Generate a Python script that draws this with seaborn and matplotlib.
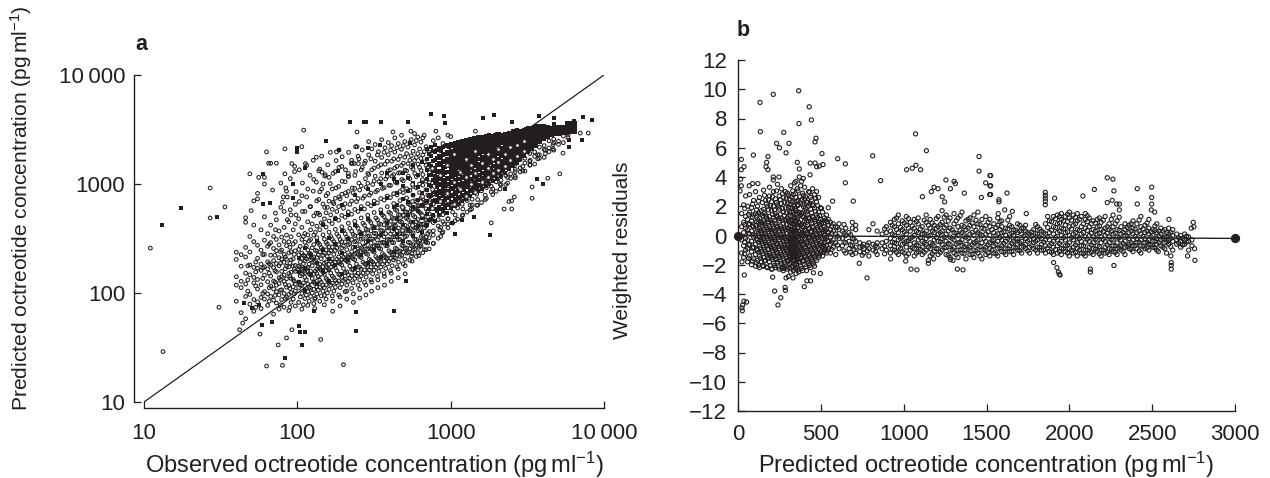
import matplotlib
matplotlib.use("Agg")
import matplotlib.pyplot as plt
import pandas as pd
import seaborn as sns

# panel a, values: observed -> list of predicted
a_open_low = {
    40: [84, 118, 141, 203, 236], 43: [66, 112, 128, 176, 225], 46: [58, 93, 121, 152, 214, 262],
    49: [79, 97, 147, 181, 238, 330], 52: [68, 87, 124, 139, 172, 296, 420], 55: [83, 109, 133, 169, 208, 274],
    58: [72, 91, 119, 161, 184, 247, 380], 61: [88, 103, 146, 174, 226, 305, 500], 64: [77, 98, 127, 166, 193, 268, 350],
    67: [93, 116, 143, 181, 222, 290, 420], 70: [64, 86, 109, 129, 171, 198, 256, 330],
    73: [81, 103, 118, 156, 186, 245, 310, 470], 76: [71, 96, 122, 138, 178, 211, 276, 370],
    79: [87, 107, 141, 158, 205, 248, 326], 82: [74, 99, 128, 146, 191, 226, 297, 400, 560],
    85: [92, 113, 135, 176, 204, 272, 340], 88: [69, 97, 117, 151, 174, 233, 295, 450],
    91: [82, 101, 136, 155, 201, 239, 328, 520], 94: [88, 114, 133, 177, 206, 282, 380],
    97: [76, 104, 121, 158, 179, 244, 296, 430, 650],
}
a_open_mid = {
    102: [82, 112, 126, 163, 176, 224, 251, 342, 480], 107: [71, 99, 117, 149, 165, 208, 233, 310, 400, 780],
    112: [89, 106, 139, 154, 197, 218, 292, 352, 560], 117: [77, 103, 121, 157, 172, 216, 248, 341, 450, 900],
    122: [93, 111, 146, 159, 202, 229, 310, 380, 620], 128: [80, 108, 126, 149, 192, 214, 278, 340, 510, 1100],
    134: [98, 114, 151, 166, 212, 242, 322, 410, 700], 140: [84, 113, 131, 168, 183, 238, 277, 381, 520, 850],
    147: [104, 118, 156, 174, 222, 252, 342, 430, 655, 1000], 154: [88, 119, 136, 174, 193, 249, 291, 402, 545, 780],
    161: [108, 126, 164, 183, 234, 266, 362, 458, 695, 1150], 169: [94, 123, 143, 185, 205, 264, 311, 433, 585, 900],
    177: [113, 131, 171, 191, 246, 281, 384, 486, 740, 1300], 186: [96, 129, 149, 192, 214, 279, 331, 465, 620, 950],
    195: [121, 140, 181, 203, 259, 296, 405, 515, 805, 1450], 205: [103, 134, 154, 202, 226, 295, 350, 496, 660, 1050],
    215: [128, 147, 192, 214, 277, 316, 436, 555, 855, 1250], 226: [110, 144, 165, 212, 240, 310, 370, 528, 700, 1650],
    237: [136, 155, 202, 227, 295, 336, 455, 585, 910, 1200], 249: [118, 152, 174, 226, 253, 331, 392, 560, 735, 1800],
    261: [144, 165, 212, 240, 311, 354, 488, 620, 960, 1350], 274: [125, 163, 186, 240, 270, 352, 418, 590, 775, 1550],
    288: [154, 174, 226, 253, 330, 378, 518, 660, 1015, 1250], 302: [132, 173, 198, 254, 287, 372, 442, 632, 825, 1700],
    317: [162, 184, 238, 270, 352, 402, 548, 698, 1065, 1400], 333: [142, 183, 208, 271, 307, 398, 470, 672, 875, 1850],
    350: [173, 195, 254, 287, 374, 426, 580, 735, 1120, 1500], 368: [151, 196, 222, 290, 328, 424, 502, 712, 925, 1950],
    386: [185, 208, 271, 307, 398, 455, 620, 775, 1170, 1620], 405: [160, 208, 236, 308, 348, 454, 538, 752, 970, 1350, 2050],
    425: [201, 224, 290, 328, 424, 484, 662, 815, 1220, 1700], 446: [174, 221, 253, 328, 372, 485, 572, 795, 1020, 1450, 2150],
    468: [216, 243, 310, 350, 452, 518, 705, 855, 1270, 1800], 491: [185, 237, 270, 350, 396, 516, 606, 835, 1070, 1550, 2250],
    516: [232, 259, 333, 375, 483, 552, 745, 905, 1320, 1900], 542: [200, 255, 290, 372, 424, 552, 645, 875, 1120, 1650, 2400],
    569: [248, 278, 357, 402, 515, 590, 790, 950, 1370, 2000], 597: [216, 276, 311, 398, 452, 590, 685, 925, 1170, 1750, 2500],
    627: [270, 300, 382, 430, 550, 630, 835, 1000, 1420, 2100], 658: [234, 298, 336, 430, 490, 630, 728, 975, 1220, 1850, 2650],
    691: [292, 325, 412, 465, 592, 675, 885, 1060, 1480, 2200], 725: [254, 322, 366, 465, 530, 675, 775, 1030, 1280, 1950],
}
# offset columns that break up the rows of the first pass
a_open_extra = {
    47.5: [104, 132, 178], 53.5: [74, 116, 156, 192], 59.5: [99, 136, 170, 225], 65.5: [84, 112, 152, 186, 280], 71.5: [95, 126, 160, 222],
    77.5: [78, 106, 133, 187, 240], 83.5: [89, 120, 167, 214], 89.5: [74, 110, 143, 188, 262], 95.5: [98, 128, 165, 226],
    104.5: [92, 118, 144, 172, 192, 268], 109.5: [78, 124, 158, 186, 222, 330], 114.5: [96, 132, 168, 206, 270], 119.5: [84, 113, 150, 184, 232, 300],
    125: [100, 136, 178, 208, 260, 430], 131: [90, 122, 158, 196, 246, 360], 137: [106, 142, 174, 224, 288, 540], 143: [94, 126, 162, 206, 262, 440],
    150: [112, 148, 188, 232, 312, 480], 157: [100, 132, 170, 216, 280, 610], 165: [118, 152, 196, 244, 330, 520], 173: [104, 138, 178, 226, 296, 660],
    181: [124, 160, 204, 258, 348, 560], 190: [112, 146, 186, 236, 310, 730], 200: [130, 168, 212, 270, 372, 600], 210: [118, 156, 196, 250, 326, 780],
    220: [136, 176, 222, 284, 392, 650], 231: [124, 164, 206, 262, 346, 830], 243: [144, 184, 232, 300, 412, 690], 255: [132, 172, 216, 278, 362, 880],
    268: [152, 192, 246, 316, 436, 740], 281: [140, 182, 230, 294, 384, 930], 295: [162, 204, 260, 334, 462, 790], 310: [150, 192, 242, 312, 408, 990],
    325: [172, 216, 276, 352, 488, 850], 341: [158, 202, 258, 330, 434, 1050], 359: [184, 230, 292, 372, 520, 910], 377: [168, 214, 272, 350, 462, 1110],
    396: [196, 244, 310, 396, 552, 975], 415: [178, 226, 290, 370, 492, 1180], 436: [208, 258, 330, 418, 585, 1040], 457: [192, 240, 308, 394, 522, 1260],
    480: [222, 274, 352, 444, 622, 1100], 504: [204, 256, 328, 418, 556, 1340], 529: [236, 292, 374, 472, 660, 1180], 555: [218, 272, 350, 444, 592, 1430],
    583: [252, 310, 398, 500, 702, 1250], 612: [234, 290, 372, 472, 630, 1520], 642: [270, 330, 424, 532, 745, 1330], 674: [250, 310, 396, 502, 670, 1600],
    708: [288, 352, 452, 566, 792, 1410],
}
a_open_upper = {
    72: [380, 540], 78: [610, 1020], 86: [470, 760], 90: [580, 1120], 98: [520, 850], 103: [690, 1350], 108: [560, 1020], 115: [760, 1480],
    121: [620, 1200], 127: [860, 1650], 133: [540, 1040, 1760], 138: [720, 1320], 144: [900, 1800], 151: [610, 1180], 158: [820, 1500],
    164: [1010, 1950], 171: [680, 1250], 179: [920, 1640], 187: [760, 1420, 2050], 196: [1060, 1780], 206: [830, 1350], 216: [1180, 1950],
    228: [920, 1560], 240: [1300, 2200], 252: [1020, 1700], 265: [1420, 2050], 278: [1120, 1620], 292: [1220, 1850, 2450], 306: [1350, 2100],
    322: [1180, 1620, 2300], 338: [1450, 1980], 355: [1260, 1750, 2550], 373: [1520, 2150], 392: [1320, 1860, 2400], 412: [1620, 2250],
    432: [1400, 1960, 2650], 455: [1680, 2350], 478: [1480, 2080, 2800], 502: [1760, 2450], 527: [1540, 2180], 553: [1820, 2550],
    581: [1640, 2280, 2900], 610: [1900, 2700], 640: [1720, 2420], 672: [1980, 2800],
}
a_open_fringe = {
    130: [72, 88], 150: [78, 95], 170: [68, 84], 190: [76, 92], 210: [88, 104], 232: [82, 98], 255: [90, 108], 280: [96, 118], 305: [104, 126],
    335: [112, 132], 370: [118, 142], 410: [128, 152], 455: [138, 166], 505: [150, 178], 560: [196, 230], 620: [220, 262], 690: [250, 300],
    770: [285, 340], 860: [330, 400], 960: [430, 480], 1070: [460, 520], 1200: [520, 590], 1340: [580, 640], 1500: [640, 720], 1680: [720, 790],
    1880: [800, 900], 2100: [900, 1000], 2350: [1020, 1150], 2630: [1180, 1300], 2950: [1320, 1450], 3300: [1500, 1650], 3700: [1700, 1850],
    4150: [1900, 2050], 4650: [2100, 2300],
}
a_open_high = {
    770: [286, 372, 442, 506, 655, 812, 2500], 830: [318, 412, 472, 592, 706, 2650], 890: [364, 452, 522, 664, 788, 2350],
    960: [396, 478, 604, 698, 895, 2800], 1030: [438, 552, 638, 792], 1110: [476, 602, 688, 852], 1190: [514, 652, 748, 915],
    1280: [552, 704, 806, 994], 1380: [642, 726, 894, 1022], 1480: [638, 806, 926, 1118], 1590: [676, 866, 984, 1186],
    1710: [738, 926, 1042, 1260], 1840: [848, 952, 1148, 1296], 1980: [856, 1048, 1184, 1412], 2130: [978, 1082, 1302, 1448],
    2290: [988, 1196, 1338, 1586], 2460: [1124, 1242, 1472, 1628], 2640: [1138, 1362, 1516, 1786], 2840: [1292, 1408, 1668, 1842],
    3050: [1312, 1558, 1722, 2020], 3280: [1486, 1612, 1902, 2088], 3530: [1522, 1792, 1968], 3790: [1722, 1856, 2178],
    4070: [1756, 2068, 2252], 4380: [1976, 2142, 2490], 4700: [2046, 2380, 2578], 5050: [2312, 2468], 5430: [2394, 2752],
    5830: [2652, 2846],
}
# circles that lie on top of the black band
a_open_top = {
    480: [380, 620, 900], 560: [420, 700, 1000], 650: [520, 780, 1100], 750: [600, 900, 1400], 850: [700, 1200], 950: [820, 1500], 1050: [650, 1050, 1900],
    1150: [900, 1300], 1250: [780, 1150, 1700], 1350: [1000, 1500], 1450: [850, 1250, 2000], 1600: [1050, 1550], 1750: [1150, 1400, 1900],
    1900: [1250, 1700], 2050: [1350, 1600, 2100], 2250: [1450, 1900], 2450: [1650, 2200], 2700: [1800, 2300], 3000: [2000, 2500],
}
a_open_outliers_x = [27, 27, 33.7, 11, 13.3, 30.8, 63, 80, 75, 85, 142, 200, 92, 57, 42, 44, 800, 1000, 1450, 7900, 7000,
                     5400, 5150, 4300, 3400, 3400, 2600, 2500, 2400, 2500, 2230, 1840, 1370, 910, 850, 880, 110, 245, 420,
                     550, 63, 83, 107, 49, 56, 61, 61, 65, 67, 73, 92, 96, 113, 83, 96, 140, 145, 152, 245, 180, 225, 235,
                     250, 215, 69, 55, 55, 52, 84, 85, 81, 50, 80, 46, 46]
a_open_outliers_y = [918, 488, 616, 258, 29, 74, 21.4, 21.7, 33.4, 38.7, 37.4, 22, 46, 42, 46, 53, 3050, 2720, 3050, 2930,
                     2930, 1920, 1240, 1130, 940, 740, 760, 700, 690, 590, 590, 440, 590, 430, 380, 355, 3120, 3000, 3000,
                     3050, 1970, 2100, 2200, 1240, 1150, 1150, 1000, 1550, 1550, 1550, 1540, 1450, 1540, 1240, 1300, 1370,
                     1280, 1220, 2200, 1970, 1540, 1540, 1540, 1170, 880, 820, 730, 700, 920, 860, 760, 570, 680, 490, 445]
a_filled_mass = {
    700: [420, 530, 700, 880, 1100, 1350, 1700, 2100], 745: [480, 640, 790, 960, 1200, 1450, 1800, 2200],
    790: [460, 590, 720, 850, 1020, 1180, 1400, 1650, 1950, 2300], 840: [520, 620, 740, 860, 1000, 1150, 1320, 1550, 1800, 2150],
    890: [560, 650, 770, 900, 1040, 1200, 1380, 1600, 1850, 2200], 945: [540, 640, 750, 870, 1000, 1140, 1300, 1480, 1700, 1950, 2300],
    1000: [600, 690, 800, 920, 1050, 1200, 1360, 1550, 1760, 2000, 2350], 1060: [630, 730, 840, 960, 1090, 1240, 1400, 1600, 1820, 2080, 2400],
    1120: [660, 760, 870, 990, 1120, 1270, 1440, 1640, 1860, 2120, 2450], 1190: [700, 800, 910, 1030, 1170, 1320, 1490, 1690, 1920, 2180, 2500],
    1260: [730, 830, 950, 1070, 1210, 1360, 1540, 1740, 1970, 2230, 2520], 1340: [780, 880, 990, 1120, 1260, 1420, 1600, 1800, 2030, 2300, 2600],
    1420: [820, 930, 1050, 1180, 1320, 1480, 1660, 1860, 2090, 2350, 2620], 1500: [860, 970, 1090, 1220, 1370, 1530, 1710, 1920, 2150, 2400, 2680],
    1590: [900, 1010, 1130, 1270, 1420, 1590, 1780, 1990, 2220, 2480, 2720], 1690: [950, 1070, 1200, 1340, 1490, 1660, 1850, 2060, 2290, 2530, 2780],
    1790: [1000, 1120, 1250, 1390, 1550, 1720, 1910, 2120, 2350, 2600, 2820], 1900: [1060, 1190, 1320, 1470, 1630, 1800, 1990, 2200, 2420, 2660],
    2010: [1120, 1250, 1390, 1540, 1700, 1880, 2070, 2280, 2500, 2720, 2900], 2130: [1190, 1320, 1470, 1620, 1790, 1970, 2160, 2370, 2590, 2800],
    2260: [1270, 1410, 1560, 1720, 1890, 2070, 2260, 2460, 2680, 2900], 2400: [1360, 1500, 1650, 1820, 1990, 2170, 2360, 2560, 2760, 2950],
    2540: [1450, 1600, 1760, 1920, 2100, 2280, 2460, 2650, 2850, 3050], 2690: [1560, 1710, 1870, 2040, 2210, 2390, 2570, 2760, 2950, 3100],
    2850: [1680, 1840, 2000, 2170, 2340, 2510, 2690, 2870, 3050], 3020: [1800, 1960, 2130, 2300, 2470, 2640, 2810, 3000, 3150],
    3200: [1950, 2110, 2280, 2440, 2610, 2770, 2940, 3100, 3250], 3400: [2100, 2260, 2420, 2580, 2750, 2910, 3070, 3230],
    3600: [2250, 2420, 2580, 2740, 2900, 3060, 3220, 3400], 3820: [2420, 2580, 2740, 2900, 3060, 3220, 3400],
    4050: [2580, 2740, 2900, 3060, 3200, 3380], 4290: [2700, 2860, 3000, 3150, 3300], 4550: [2820, 2960, 3100, 3250],
    4820: [2900, 3050, 3200, 3350], 5110: [2900, 3100, 3300], 5420: [2950, 3150, 3350], 5750: [2950, 3150, 3400, 3600],
    6100: [3000, 3200, 3400, 3600], 6450: [3000, 3200, 3400, 3650],
}
# second pass through the black band, between the rows above
a_filled_mass_extra = {
    450: [350, 480, 640, 820, 1050], 490: [300, 420, 590, 730, 960, 1250], 530: [390, 520, 680, 860, 1130], 570: [330, 450, 610, 790, 1020, 1500],
    610: [410, 560, 720, 940, 1220], 650: [360, 490, 640, 820, 1060, 1600], 720: [470, 590, 780, 980, 1220, 1520, 1900], 765: [520, 700, 870, 1080, 1320, 1620, 2000],
    815: [560, 680, 800, 930, 1090, 1280, 1480, 1720, 2050], 865: [590, 700, 830, 970, 1120, 1290, 1490, 1720, 2020], 915: [600, 710, 820, 950, 1080, 1260, 1440, 1640, 1900, 2250],
    970: [640, 750, 860, 990, 1120, 1280, 1450, 1640, 1880, 2180], 1030: [680, 780, 900, 1020, 1160, 1320, 1500, 1700, 1930, 2230], 1090: [710, 810, 930, 1060, 1200, 1350, 1530, 1740, 1980, 2280],
    1155: [750, 860, 970, 1100, 1240, 1400, 1570, 1780, 2020, 2320], 1225: [780, 890, 1000, 1140, 1280, 1440, 1620, 1830, 2070, 2370], 1300: [830, 930, 1050, 1190, 1330, 1490, 1680, 1900, 2150, 2450],
    1380: [870, 980, 1110, 1250, 1400, 1560, 1740, 1960, 2210, 2480], 1460: [910, 1030, 1150, 1290, 1450, 1610, 1800, 2020, 2270, 2520], 1545: [960, 1080, 1200, 1350, 1500, 1680, 1870, 2090, 2340, 2600],
    1640: [1010, 1130, 1260, 1410, 1570, 1750, 1950, 2170, 2400, 2650], 1740: [1060, 1190, 1330, 1470, 1640, 1820, 2010, 2230, 2470, 2700], 1845: [1130, 1260, 1400, 1550, 1710, 1890, 2090, 2310, 2530, 2740],
    1955: [1190, 1320, 1460, 1620, 1790, 1970, 2170, 2390, 2610, 2810], 2070: [1260, 1390, 1540, 1700, 1870, 2060, 2260, 2480, 2690, 2870], 2195: [1340, 1480, 1640, 1800, 1980, 2160, 2360, 2570, 2790],
    2330: [1430, 1570, 1730, 1900, 2080, 2260, 2460, 2660, 2850], 2470: [1530, 1680, 1840, 2010, 2190, 2370, 2560, 2750, 2960], 2615: [1630, 1790, 1950, 2120, 2300, 2480, 2670, 2860, 3030],
    2770: [1760, 1920, 2080, 2250, 2420, 2600, 2780, 2960], 2935: [1880, 2040, 2210, 2380, 2550, 2730, 2900, 3080], 3110: [2030, 2190, 2360, 2520, 2690, 2860, 3030, 3200],
    3300: [2180, 2340, 2500, 2660, 2830, 2990, 3150], 3500: [2340, 2500, 2660, 2820, 2980, 3140, 3300], 3710: [2500, 2660, 2820, 2980, 3140, 3310],
}
a_filled_low = {
    102: [125, 155, 210], 112: [105, 170, 260], 122: [145, 225], 134: [120, 190, 300], 147: [160, 250, 420], 161: [130, 205, 320],
    177: [180, 280, 480], 195: [150, 235, 370, 640], 215: [200, 310, 520], 237: [170, 265, 420, 800], 261: [225, 350, 590],
    288: [190, 300, 480, 900], 317: [250, 395, 660], 350: [215, 340, 540, 1000], 386: [280, 440, 740, 1250], 425: [240, 385, 610, 1100],
}
a_filled_outliers_x = [13.1, 17.4, 30, 220, 272, 279, 350, 525, 153, 100, 100, 186, 288, 344, 540, 60, 113, 185, 93, 60, 66, 93,
                       83, 107, 240, 104, 113, 102, 59, 68, 240, 430, 510, 128, 45, 51, 56, 740, 900, 925, 1615, 1930, 2500,
                       3780, 4700, 4700, 7300, 8300, 6400, 5900, 7200, 5900, 3630, 4000, 1180, 1410, 1020, 1065, 1800, 2250]
a_filled_outliers_y = [421, 600, 498, 3700, 3700, 3700, 3700, 3700, 2480, 2140, 1950, 2040, 2140, 2280, 2400, 1240, 1400, 1320,
                       1000, 650, 670, 740, 25.4, 33.4, 45, 44, 44, 50, 51, 54, 67, 68, 129, 68, 81, 73, 78, 4390, 4200, 3630,
                       4030, 4340, 3700, 4200, 4000, 3530, 4100, 3900, 3800, 2530, 2530, 2200, 1110, 1000, 465, 500, 440, 350,
                       340, 900]
a_line_x = [10, 10000]
a_line_y = [10, 10000]

# panel b: predicted -> list of weighted residuals
b_body_left = {
    22: [-1.2, -0.3, 0.6, 1.5], 34: [-1.5, -0.7, 0.2, 0.9, 2.1], 46: [-1.0, -0.2, 0.5, 1.3, 2.7], 58: [-1.8, -0.9, -0.3, 0.4, 1.1, 2.0],
    70: [-1.4, -0.6, 0.1, 0.8, 1.6, 2.8], 82: [-2.0, -1.1, -0.4, 0.3, 1.0, 1.9], 94: [-1.6, -0.8, -0.1, 0.6, 1.4, 2.4],
    106: [-2.1, -1.3, -0.6, 0.0, 0.7, 1.5, 3.0], 118: [-1.7, -1.0, -0.3, 0.4, 1.1, 2.0], 130: [-2.2, -1.4, -0.7, -0.1, 0.5, 1.2, 2.6],
    142: [-1.8, -1.1, -0.4, 0.2, 0.9, 1.7], 154: [-2.1, -1.5, -0.8, -0.2, 0.4, 1.0, 1.8, 3.1], 166: [-1.7, -1.1, -0.5, 0.1, 0.7, 1.4, 2.4],
    178: [-2.2, -1.4, -0.7, -0.2, 0.4, 1.1, 2.0], 190: [-1.8, -1.2, -0.6, 0.0, 0.6, 1.3, 2.7, 3.3], 202: [-2.3, -1.5, -0.9, -0.3, 0.3, 0.9, 1.7, 2.3],
    214: [-1.9, -1.3, -0.7, -0.1, 0.5, 1.2, 2.0, 3.0], 226: [-2.2, -1.6, -1.0, -0.4, 0.2, 0.8, 1.5, 2.5], 238: [-1.8, -1.2, -0.6, 0.0, 0.6, 1.3, 2.1, 3.5],
    250: [-2.3, -1.5, -0.9, -0.3, 0.3, 1.0, 1.8, 2.7], 262: [-1.9, -1.3, -0.7, -0.1, 0.5, 1.2, 2.2, 3.2], 274: [-2.4, -1.6, -1.0, -0.4, 0.2, 0.8, 1.6, 2.6],
    286: [-2.0, -1.3, -0.8, -0.2, 0.4, 1.1, 1.9, 3.0], 298: [-2.3, -1.7, -1.1, -0.6, -0.1, 0.5, 1.2, 2.2, 2.9], 310: [-1.9, -1.4, -0.8, -0.3, 0.3, 0.9, 1.6, 2.5],
    318: [-2.5, -1.6, -1.1, -0.7, -0.2, 0.4, 1.0, 1.9, 3.4], 326: [-2.1, -1.5, -1.0, -0.5, 0.0, 0.6, 1.3, 2.3], 334: [-2.4, -1.7, -1.2, -0.8, -0.3, 0.2, 0.8, 1.6, 2.8],
    342: [-2.0, -1.4, -1.0, -0.5, 0.0, 0.5, 1.2, 2.0, 3.6], 350: [-2.6, -1.8, -1.3, -0.8, -0.3, 0.3, 0.9, 1.7, 2.6], 358: [-2.2, -1.5, -1.1, -0.6, -0.1, 0.5, 1.1, 2.1, 3.2],
    366: [-2.5, -1.8, -1.2, -0.7, -0.2, 0.3, 0.9, 1.6, 2.4], 378: [-2.1, -1.5, -1.0, -0.5, 0.1, 0.7, 1.4, 2.2, 3.4], 390: [-2.4, -1.7, -1.1, -0.6, 0.0, 0.6, 1.3, 2.1, 2.9],
    402: [-2.0, -1.4, -0.8, -0.2, 0.4, 1.0, 1.7, 2.5, 3.3], 414: [-2.4, -1.6, -1.0, -0.4, 0.2, 0.9, 1.6, 2.3], 426: [-1.9, -1.3, -0.7, -0.1, 0.5, 1.2, 2.0, 3.0],
    438: [-2.2, -1.5, -0.9, -0.3, 0.3, 1.0, 1.8, 2.6], 450: [-1.8, -1.2, -0.6, 0.0, 0.6, 1.3, 2.1, 3.2], 462: [-2.1, -1.4, -0.8, -0.2, 0.4, 1.1, 1.9, 2.8],
    474: [-1.7, -1.1, -0.5, 0.1, 0.7, 1.4, 2.3, 3.0], 486: [-1.5, -0.9, -0.3, 0.3, 0.9, 1.6, 2.6], 498: [-1.2, -0.7, -0.1, 0.5, 1.1, 1.9],
    510: [-1.4, -0.8, -0.2, 0.4, 1.0, 1.6], 522: [-1.0, -0.5, 0.0, 0.6, 1.2], 534: [-1.2, -0.7, -0.1, 0.5, 1.4], 546: [-0.9, -0.4, 0.2, 0.7, 1.1],
    558: [-1.2, -0.6, -0.1, 0.4, 0.9], 575: [-0.8, -0.3, 0.3, 0.8], 590: [-1.3, -0.5, 0.1, 0.6], 610: [-0.9, -0.2, 0.4, 0.8], 630: [-0.7, -0.2, 0.3],
    650: [-1.2, -0.5, 0.0, 0.5], 670: [-0.9, -0.4, 0.2], 690: [-1.3, -0.7, -0.2, 0.5, 0.9], 710: [-1.2, -0.8, -0.4, 0.7, 0.4], 735: [-1.1, -0.8, -0.5],
    760: [-1.2, -0.9, -0.6], 790: [-1.4, -0.9, -0.5, 0.4], 815: [-1.0, -0.6, 0.8], 840: [-1.3, -0.8, -0.5, 0.3], 870: [-0.9, -0.5, 0.1],
    895: [-1.0, -0.4, 0.2, 0.6],
}
b_body_left_extra = {
    40: [-1.25, -0.45, 0.75, 1.85], 64: [-1.55, -0.65, 0.15, 0.75, 1.45], 88: [-1.75, -0.85, 0.05, 0.65, 1.25, 2.15], 112: [-1.85, -0.95, -0.25, 0.25, 0.95, 1.75],
    124: [-2.05, -1.15, -0.45, 0.15, 0.85, 1.55, 2.35], 136: [-1.55, -0.85, -0.25, 0.35, 0.75, 1.45], 148: [-2.05, -1.25, -0.55, -0.05, 0.65, 1.35, 2.25],
    160: [-1.75, -0.95, -0.35, 0.25, 0.85, 1.55, 2.75], 172: [-2.15, -1.25, -0.65, -0.05, 0.55, 1.25, 2.15], 184: [-1.55, -0.95, -0.35, 0.25, 0.95, 1.75, 2.45],
    196: [-2.05, -1.35, -0.75, -0.15, 0.45, 1.05, 2.05], 208: [-1.65, -1.05, -0.45, 0.15, 0.75, 1.45, 2.65], 220: [-2.05, -1.45, -0.85, -0.25, 0.35, 1.05, 1.75],
    232: [-1.65, -1.15, -0.55, 0.05, 0.65, 1.35, 2.25, 3.05], 244: [-2.15, -1.35, -0.75, -0.15, 0.45, 1.15, 1.95], 256: [-1.75, -1.15, -0.55, 0.05, 0.65, 1.45, 2.45],
    268: [-2.15, -1.45, -0.85, -0.25, 0.35, 1.05, 1.85, 2.85], 280: [-1.85, -1.15, -0.65, -0.05, 0.55, 1.35, 2.25], 292: [-2.15, -1.55, -0.95, -0.45, 0.15, 0.75, 1.55, 2.55],
    304: [-1.75, -1.25, -0.65, -0.15, 0.45, 1.05, 1.95, 2.75], 314: [-2.25, -1.45, -0.95, -0.45, 0.05, 0.65, 1.35, 2.15], 322: [-1.85, -1.25, -0.85, -0.35, 0.15, 0.85, 1.65, 2.65],
    330: [-2.15, -1.35, -1.05, -0.65, -0.15, 0.35, 1.05, 1.85, 3.05], 338: [-1.65, -1.25, -0.75, -0.25, 0.25, 0.75, 1.45, 2.35], 346: [-2.25, -1.55, -1.15, -0.65, -0.15, 0.35, 1.05, 1.85, 2.85],
    354: [-1.95, -1.35, -0.95, -0.45, 0.15, 0.75, 1.45, 2.35], 362: [-2.35, -1.65, -1.05, -0.55, -0.05, 0.55, 1.25, 2.05, 3.05], 372: [-1.85, -1.35, -0.85, -0.35, 0.25, 0.85, 1.55, 2.65],
    384: [-2.25, -1.55, -0.95, -0.45, 0.15, 0.75, 1.55, 2.45], 396: [-1.75, -1.25, -0.65, -0.05, 0.55, 1.25, 1.95, 2.75], 408: [-2.15, -1.45, -0.85, -0.25, 0.35, 1.15, 1.85, 2.65],
    420: [-1.75, -1.15, -0.55, 0.05, 0.75, 1.45, 2.25], 432: [-2.05, -1.35, -0.75, -0.15, 0.45, 1.15, 2.15, 2.95], 444: [-1.65, -1.05, -0.45, 0.25, 0.85, 1.55, 2.45],
    456: [-1.95, -1.25, -0.65, -0.05, 0.55, 1.25, 2.05], 468: [-1.55, -0.95, -0.35, 0.25, 0.95, 1.65, 2.55], 480: [-1.25, -0.75, -0.15, 0.55, 1.25, 2.05],
    492: [-1.35, -0.55, 0.15, 0.75, 1.35], 504: [-1.05, -0.45, 0.15, 0.85, 1.85], 516: [-1.15, -0.65, 0.25, 0.85], 528: [-0.85, -0.25, 0.35, 1.05], 540: [-1.05, -0.35, 0.25, 0.95],
    566: [-0.95, -0.45, 0.15, 0.65], 600: [-0.65, -0.05, 0.55], 640: [-1.05, -0.45, 0.15, 0.75], 680: [-1.15, -0.65, 0.05], 700: [-0.95, -0.25], 750: [-1.35, -0.75], 780: [-1.05, -0.65], 830: [-1.1, -0.7], 885: [-1.25, -0.75, 0.45],
}
b_body_right = {
    920: [-1.2, -0.7, -0.2, 0.3, 0.9], 944: [-1.0, -0.5, 0.0, 0.6, 1.1], 968: [-1.3, -0.8, -0.3, 0.2, 0.8, 1.4], 992: [-1.1, -0.6, -0.1, 0.4, 1.0],
    1016: [-1.4, -0.8, -0.4, 0.1, 0.7, 1.3], 1040: [-1.0, -0.6, -0.2, 0.3, 0.9], 1064: [-1.4, -0.9, -0.5, 0.0, 0.5, 1.1], 1088: [-1.1, -0.7, -0.3, 0.2, 0.8, 1.2],
    1112: [-1.3, -0.8, -0.4, 0.1, 0.6], 1136: [-1.0, -0.6, -0.2, 0.3, 0.9, 1.4], 1160: [-1.4, -0.9, -0.5, 0.0, 0.5, 1.1], 1184: [-1.1, -0.7, -0.3, 0.2, 0.7],
    1208: [-1.3, -0.9, -0.4, 0.1, 0.6, 1.3], 1232: [-1.0, -0.6, -0.2, 0.3, 0.9, 1.7], 1256: [-1.3, -0.8, -0.4, 0.1, 0.7, 1.4], 1280: [-1.5, -1.0, -0.6, -0.1, 0.5, 1.2],
    1304: [-1.2, -0.8, -0.3, 0.2, 0.8, 1.5], 1328: [-1.5, -1.0, -0.5, 0.0, 0.6, 1.2], 1352: [-1.2, -0.7, -0.3, 0.2, 0.7, 1.6], 1376: [-1.6, -1.0, -0.6, -0.1, 0.4, 1.0],
    1400: [-1.3, -0.8, -0.4, 0.1, 0.7, 1.2], 1424: [-1.5, -1.0, -0.5, 0.0, 0.6, 1.4], 1448: [-1.2, -0.7, -0.3, 0.2, 0.8, 1.6], 1472: [-1.6, -1.0, -0.5, 0.0, 0.5, 1.1],
    1496: [-1.3, -0.8, -0.4, 0.1, 0.7, 1.3], 1520: [-1.4, -0.9, -0.5, 0.0, 0.6, 1.1], 1544: [-1.2, -0.7, -0.3, 0.2, 0.8], 1568: [-1.4, -0.9, -0.4, 0.1, 0.7, 1.2],
    1592: [-1.1, -0.7, -0.3, 0.2, 0.6, 1.0], 1616: [-1.3, -0.9, -0.4, 0.0, 0.5], 1640: [-1.1, -0.7, -0.3, 0.1, 0.7, 1.3], 1664: [-1.3, -0.8, -0.4, 0.0, 0.4],
    1688: [-1.0, -0.6, -0.2, 0.2, 0.8], 1712: [-1.2, -0.8, -0.4, 0.1, 0.5], 1736: [-0.9, -0.6, -0.2, 0.3, 0.7], 1760: [-1.2, -0.8, -0.3, 0.1], 1784: [-0.9, -0.5, -0.2, 0.4],
    1808: [-1.2, -0.8, -0.3, 0.1, 0.6], 1832: [-1.0, -0.6, -0.2, 0.3], 1856: [-1.2, -0.7, -0.3, 0.1, 0.8], 1880: [-1.1, -0.7, -0.3, 0.2, 1.0], 1904: [-1.3, -0.8, -0.4, 0.1, 0.6, 1.3],
    1928: [-1.2, -0.7, -0.3, 0.2, 0.8, 1.4], 1952: [-1.3, -0.9, -0.4, 0.0, 0.5, 1.1, 1.5], 1976: [-1.1, -0.7, -0.3, 0.2, 0.7, 1.3], 2000: [-1.4, -0.9, -0.5, 0.0, 0.6, 1.2, 1.6],
    2024: [-1.2, -0.8, -0.3, 0.1, 0.7, 1.4], 2048: [-1.4, -0.9, -0.5, -0.1, 0.4, 1.0, 1.5], 2072: [-1.2, -0.7, -0.4, 0.1, 0.6, 1.3], 2096: [-1.4, -1.0, -0.5, -0.1, 0.5, 1.1, 1.5],
    2120: [-1.2, -0.8, -0.4, 0.0, 0.6, 1.2], 2144: [-1.3, -0.9, -0.5, -0.1, 0.4, 1.0], 2168: [-1.1, -0.7, -0.3, 0.1, 0.6, 1.1], 2192: [-1.4, -1.0, -0.5, -0.1, 0.4, 0.9],
    2216: [-1.2, -0.8, -0.4, 0.0, 0.5, 1.3], 2240: [-1.3, -0.9, -0.5, -0.1, 0.4, 0.8], 2264: [-1.1, -0.7, -0.3, 0.1, 0.6, 1.4], 2288: [-1.3, -0.9, -0.5, -0.1, 0.4, 1.0],
    2312: [-1.0, -0.7, -0.3, 0.1, 0.6], 2336: [-1.3, -0.8, -0.4, 0.0, 0.4, 0.8], 2360: [-0.9, -0.6, -0.2, 0.2, 0.7], 2384: [-1.1, -0.7, -0.3, 0.1, 0.5, 1.0],
    2408: [-0.9, -0.5, -0.2, 0.2, 0.8], 2432: [-1.2, -0.7, -0.3, 0.1, 0.6, 1.3], 2456: [-0.9, -0.5, -0.2, 0.2, 0.7], 2480: [-1.0, -0.6, -0.3, 0.1, 0.5, 1.1],
    2504: [-0.8, -0.4, 0.0, 0.4], 2528: [-1.0, -0.6, -0.2, 0.2, 0.8], 2552: [-0.7, -0.3, 0.1, 0.5], 2576: [-0.9, -0.5, -0.1, 0.4], 2600: [-0.6, -0.3, 0.1, 0.5],
    2624: [-1.0, -0.4, 0.0, 0.4], 2648: [-0.6, -0.3, 0.1], 2672: [-0.8, -0.4, 0.0], 2696: [-0.6, -0.3, 0.1], 2720: [-1.0, -0.4, -0.1], 2740: [-0.7, -0.3],
}
b_body_right_extra = {
    931: [-0.95, -0.45, 0.1, 0.7], 957: [-1.15, -0.55, 0.4, 1.2], 981: [-0.9, -0.2, 0.55], 1004: [-1.2, -0.5, 0.25, 0.85], 1029: [-1.25, -0.35, 0.5, 1.15], 1052: [-0.85, -0.1, 0.65],
    1077: [-1.2, -0.65, 0.3, 0.95], 1101: [-0.95, -0.15, 0.45], 1124: [-1.15, -0.5, 0.15, 1.05], 1149: [-0.8, -0.05, 0.7], 1173: [-1.25, -0.6, 0.3, 0.85], 1197: [-0.9, -0.15, 0.5, 1.15],
    1221: [-1.15, -0.45, 0.2, 0.75], 1245: [-0.85, -0.1, 0.55, 1.25], 1269: [-1.35, -0.55, 0.3, 1.0], 1293: [-0.95, -0.2, 0.4], 1317: [-1.3, -0.6, 0.15, 1.0], 1341: [-1.0, -0.45, 0.35, 1.35],
    1365: [-1.25, -0.75, 0.05, 0.6], 1389: [-0.95, -0.2, 0.5, 1.1], 1413: [-1.3, -0.65, 0.2, 0.85], 1437: [-1.05, -0.4, 0.35, 1.05], 1461: [-1.4, -0.75, 0.1, 0.75], 1485: [-0.95, -0.2, 0.45],
    1509: [-1.2, -0.65, 0.25, 0.9], 1533: [-1.0, -0.35, 0.4], 1557: [-1.25, -0.6, 0.0, 0.55], 1581: [-0.85, -0.15, 0.4, 0.95], 1605: [-1.15, -0.55, 0.25], 1629: [-0.9, -0.2, 0.45, 1.05],
    1653: [-1.1, -0.55, 0.15, 0.6], 1677: [-0.85, -0.25, 0.35], 1701: [-1.05, -0.5, 0.3, 0.7], 1725: [-0.75, -0.05, 0.5], 1749: [-1.05, -0.4, 0.2], 1773: [-0.7, -0.05, 0.25], 1797: [-1.0, -0.4, 0.15, 0.75],
    1821: [-0.8, -0.1, 0.45], 1845: [-1.0, -0.45, 0.2], 1869: [-0.85, -0.1, 0.55, 1.3], 1893: [-1.15, -0.55, 0.35, 0.95], 1917: [-0.95, -0.15, 0.55, 1.15], 1941: [-1.1, -0.55, 0.3, 0.85, 1.3],
    1965: [-0.9, -0.15, 0.45, 1.0], 1989: [-1.2, -0.65, 0.25, 0.95, 1.45], 2013: [-1.0, -0.15, 0.45, 1.05], 2037: [-1.15, -0.65, 0.2, 0.8, 1.25], 2061: [-1.0, -0.2, 0.35, 1.1], 2085: [-1.25, -0.7, 0.2, 0.8],
    2109: [-1.0, -0.25, 0.35, 0.95, 1.35], 2133: [-1.15, -0.65, 0.15, 0.8], 2157: [-0.95, -0.25, 0.3, 0.85], 2181: [-1.25, -0.75, 0.15, 0.65, 1.2], 2205: [-1.0, -0.25, 0.3, 1.05], 2229: [-1.15, -0.65, 0.15, 0.6],
    2253: [-0.95, -0.25, 0.3, 1.1], 2277: [-1.15, -0.7, 0.15, 0.8], 2301: [-0.85, -0.15, 0.35, 1.25], 2325: [-1.1, -0.55, 0.2], 2349: [-0.75, -0.05, 0.55], 2373: [-0.95, -0.5, 0.3, 0.8], 2397: [-0.7, -0.05, 0.45],
    2421: [-1.05, -0.45, 0.3, 1.05], 2445: [-0.75, -0.05, 0.45], 2469: [-0.85, -0.45, 0.3, 0.85], 2493: [-0.65, -0.1, 0.25], 2517: [-0.85, -0.4, 0.35, 0.65], 2541: [-0.5, -0.05, 0.3], 2565: [-0.8, -0.2, 0.3],
    2589: [-0.45, -0.1, 0.2], 2612: [-0.75, -0.2, 0.2], 2660: [-0.5, -0.15], 2684: [-0.65, -0.2], 2708: [-0.45, -0.05],
}
b_outliers_x = [133, 213, 366, 430, 443, 368, 135, 276, 233, 250, 308, 290, 471, 465, 507, 93, 181, 20, 602, 813, 1072, 1137, 1455,
                1455, 1521, 648, 358, 436, 465, 475, 491, 513, 173, 169, 181, 36, 20, 370, 435, 213, 213, 247, 370, 394, 350, 384,
                16, 20, 12, 68, 88, 120, 648, 861, 1018, 1052, 1074, 1102, 1255, 1304, 1312, 1282, 1183, 1167, 1207, 1233, 1247,
                1113, 1366, 1469, 1495, 1521, 1519, 571, 696, 545, 24, 38, 209, 221, 258, 241, 284, 286, 290, 304, 332, 416, 438,
                400, 455, 497, 205, 266, 278, 36, 52, 28, 24, 26, 732, 779, 1044, 1080, 1324, 1358, 1149, 1149, 1181, 1282, 1298,
                1012, 921, 1525, 1525, 1525, 1575, 1575, 1624, 1855, 1855, 1855, 1855, 1855, 1911, 2082, 2151, 2229, 2263, 2269,
                2229, 2259, 2286, 2302, 2302, 2410, 2410, 2497, 2497, 2497, 2495, 2515, 2601, 2748, 2752, 2736, 1610, 1656, 1571,
                1740, 1905, 1925, 1934, 1940, 1944, 2127, 2127, 2269, 2615, 2615, 2615, 2613, 2758, 2756, 2714, 2587, 2537]
b_outliers_y = [9.1, 9.65, 9.9, 8.8, 7.9, 7.65, 7.1, 7.05, 6.3, 6.0, 6.3, 5.65, 6.65, 6.4, 5.6, 5.5, 5.4, 5.2, 5.25, 5.45, 6.95, 5.8,
                5.4, 4.4, 4.1, 4.9, 5.0, 4.95, 4.95, 4.7, 4.75, 4.85, 5.0, 4.7, 4.5, 4.7, 4.5, 4.55, 4.15, 4.0, 3.8, 4.0, 4.0, 3.9,
                3.7, 3.7, 3.85, 3.4, 3.05, 3.4, 3.55, 3.55, 3.6, 3.75, 4.5, 4.6, 4.8, 4.5, 3.8, 3.7, 3.55, 3.2, 3.3, 3.0, 3.2, 2.65,
                2.3, 2.65, 2.9, 2.6, 3.6, 3.4, 2.8, 2.35, 2.35, 1.9, -1.8, -2.7, -2.85, -3.8, -4.25, -4.75, -3.55, -3.75, -2.9, -2.8,
                -2.9, -3.1, -3.1, -3.5, -2.55, -2.6, -2.3, -2.25, -2.25, -4.5, -4.55, -4.75, -4.95, -5.15, -1.9, -2.9, -2.3, -2.35,
                -2.3, -2.35, -1.9, -1.7, -1.6, -1.65, -1.7, -1.75, -1.6, 4.1, 3.4, 2.8, 2.45, 2.3, 2.9, 2.95, 2.75, 2.55, 2.35, 2.1,
                2.55, 2.7, 3.15, 3.95, 3.85, 3.05, 2.25, 2.4, 2.15, 2.15, 1.75, 3.2, 2.15, 3.3, 2.6, 2.15, 1.75, 1.6, 1.1, 0.9, 0.6,
                0.5, 1.75, 1.65, 1.5, 1.5, -1.85, -2.2, -2.5, -2.65, -2.7, -2.3, -2.5, -2.05, -1.85, -2.05, -2.3, -1.4, -1.7, -0.9,
                -1.4, -1.2, -1.1]
b_line_x = [0, 3000]
b_line_y = [0, -0.2]

a_ticks = [10, 100, 1000, 10000]
a_labels = ["10", "100", "1000", "10\u2009000"]
b_xticks = [0, 500, 1000, 1500, 2000, 2500, 3000]
b_yticks = [-12, -10, -8, -6, -4, -2, 0, 2, 4, 6, 8, 10, 12]

ink = "#231f20"
dpi = 100
W, H = 1270, 478


def flatten(*groups):
    xs, ys = [], []
    for group in groups:
        for x, vals in group.items():
            xs += [x] * len(vals)
            ys += vals
    return xs, ys


sns.set_style("ticks")
plt.rcParams["font.family"] = ["Liberation Sans", "DejaVu Sans"]
plt.rcParams["mathtext.fontset"] = "custom"
plt.rcParams["mathtext.rm"] = "Liberation Sans"
plt.rcParams["mathtext.default"] = "regular"
plt.rcParams["axes.edgecolor"] = ink
plt.rcParams["xtick.color"] = ink
plt.rcParams["ytick.color"] = ink
plt.rcParams["text.color"] = ink
plt.rcParams["axes.labelcolor"] = ink

fig = plt.figure(figsize=(W / dpi, H / dpi), dpi=dpi)
ax_a = fig.add_axes([144 / W, (H - 402) / H, 460 / W, 327 / H])
ax_b = fig.add_axes([738 / W, (H - 411) / H, 497 / W, 351 / H])

# panel a
open_x, open_y = flatten(a_open_low, a_open_mid, a_open_extra, a_open_upper, a_open_fringe, a_open_high)
df_open = pd.DataFrame({"x": open_x + a_open_outliers_x, "y": open_y + a_open_outliers_y})
fill_x, fill_y = flatten(a_filled_mass, a_filled_mass_extra, a_filled_low)
df_fill = pd.DataFrame({"x": fill_x + a_filled_outliers_x, "y": fill_y + a_filled_outliers_y})
top_x, top_y = flatten(a_open_top)

sns.lineplot(x=a_line_x, y=a_line_y, ax=ax_a, color=ink, linewidth=0.9, zorder=1, errorbar=None)
sns.scatterplot(data=df_open, x="x", y="y", ax=ax_a, marker="o", s=7, facecolor="none",
                edgecolor=ink, linewidth=0.75, zorder=2)
sns.scatterplot(data=df_fill, x="x", y="y", ax=ax_a, marker="s", s=9, color=ink, linewidth=0, zorder=3)
sns.scatterplot(x=top_x, y=top_y, ax=ax_a, marker="o", s=7, facecolor="white",
                edgecolor=ink, linewidth=0.75, zorder=4)
ax_a.set_xscale("log")
ax_a.set_yscale("log")
ax_a.set_xlim(10, 10000)
ax_a.set_ylim(10, 10000)
ax_a.set_xticks(a_ticks, a_labels)
ax_a.set_yticks(a_ticks, a_labels)
ax_a.minorticks_off()
ax_a.set_xlabel("Observed octreotide concentration (pg$\\,$ml$^{-1}$)", fontsize=17, labelpad=4)
ax_a.set_ylabel("Predicted octreotide concentration (pg$\\,$ml$^{-1}$)", fontsize=15.1)
ax_a.yaxis.set_label_coords(-0.24, 0.593)
sns.despine(ax=ax_a, offset={"left": 7, "bottom": 4.3})

# panel b
body_x, body_y = flatten(b_body_left, b_body_left_extra, b_body_right, b_body_right_extra)
df_b = pd.DataFrame({"x": body_x + b_outliers_x, "y": body_y + b_outliers_y})
sns.lineplot(x=b_line_x, y=b_line_y, ax=ax_b, color=ink, linewidth=1.0, zorder=1, errorbar=None)
sns.scatterplot(data=df_b, x="x", y="y", ax=ax_b, marker="o", s=9, facecolor="none",
                edgecolor=ink, linewidth=0.8, zorder=2)
ax_b.scatter(b_line_x, b_line_y, s=32, color=ink, zorder=4, clip_on=False)
ax_b.set_xlim(0, 3000)
ax_b.set_ylim(-12, 12)
ax_b.set_xticks(b_xticks)
ax_b.set_yticks(b_yticks)
ax_b.set_xlabel("Predicted octreotide concentration (pg$\\,$ml$^{-1}$)", fontsize=17, labelpad=4)
ax_b.set_ylabel("Weighted residuals", fontsize=15)
ax_b.yaxis.set_label_coords(-0.213, 0.459)
sns.despine(ax=ax_b)

for ax in [ax_a, ax_b]:
    ax.tick_params(direction="in", length=5, width=0.9, labelsize=16)
    for side in ["left", "bottom"]:
        ax.spines[side].set_linewidth(1.0)
ax_a.tick_params(axis="x", pad=11)
ax_b.tick_params(axis="x", pad=9)
ax_a.tick_params(axis="y", pad=6.5)
ax_b.tick_params(axis="y", pad=8)

fig.text(135 / W, 1 - 45 / H, "a", fontsize=15.5, fontweight="bold", va="center")
fig.text(737 / W, 1 - 30 / H, "b", fontsize=15.5, fontweight="bold", va="center")

fig.savefig("out.png", dpi=dpi)
